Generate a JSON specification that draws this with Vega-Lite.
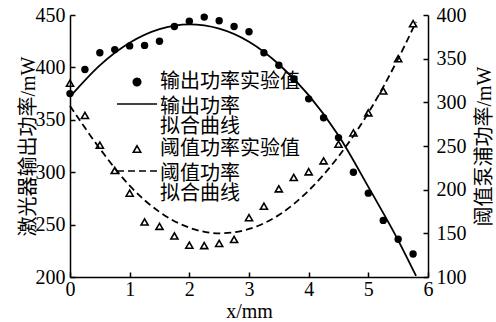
{
  "$schema": "https://vega.github.io/schema/vega-lite/v6.json",
  "width": 358,
  "height": 262,
  "autosize": {"type": "none"},
  "padding": {"left": 70, "top": 15, "right": 68, "bottom": 45},
  "background": "white",
  "config": {
    "view": {"stroke": null},
    "axis": {
      "labelFont": "Liberation Serif",
      "labelFontSize": 20,
      "labelColor": "black",
      "labelOverlap": false,
      "domainColor": "black",
      "domainWidth": 1.5,
      "tickColor": "black",
      "tickWidth": 1.5,
      "tickSize": -5,
      "grid": false,
      "titleFont": "Liberation Serif, Noto Sans CJK SC",
      "titleFontSize": 20,
      "titleFontWeight": "normal",
      "titleColor": "black"
    },
    "legend": {
      "orient": "none",
      "legendX": 57,
      "legendY": 57,
      "padding": 0,
      "symbolSize": 55,
      "symbolStrokeColor": "black",
      "symbolStrokeWidth": 1.6,
      "labelFont": "Noto Sans CJK SC",
      "labelFontSize": 20,
      "labelColor": "black",
      "labelOffset": 13,
      "labelLimit": 400,
      "rowPadding": 2
    }
  },
  "datasets": {
    "out_pts": [
      {"x": 0, "y": 375, "series": "输出功率实验值"},
      {"x": 0.25, "y": 398, "series": "输出功率实验值"},
      {"x": 0.5, "y": 414, "series": "输出功率实验值"},
      {"x": 0.75, "y": 417, "series": "输出功率实验值"},
      {"x": 1, "y": 420.5, "series": "输出功率实验值"},
      {"x": 1.25, "y": 421, "series": "输出功率实验值"},
      {"x": 1.5, "y": 425, "series": "输出功率实验值"},
      {"x": 1.75, "y": 439, "series": "输出功率实验值"},
      {"x": 2, "y": 444, "series": "输出功率实验值"},
      {"x": 2.25, "y": 448, "series": "输出功率实验值"},
      {"x": 2.5, "y": 444.5, "series": "输出功率实验值"},
      {"x": 2.75, "y": 439, "series": "输出功率实验值"},
      {"x": 3, "y": 434, "series": "输出功率实验值"},
      {"x": 3.25, "y": 414, "series": "输出功率实验值"},
      {"x": 3.5, "y": 402, "series": "输出功率实验值"},
      {"x": 3.75, "y": 389, "series": "输出功率实验值"},
      {"x": 4, "y": 370, "series": "输出功率实验值"},
      {"x": 4.25, "y": 352, "series": "输出功率实验值"},
      {"x": 4.5, "y": 333, "series": "输出功率实验值"},
      {"x": 4.75, "y": 300, "series": "输出功率实验值"},
      {"x": 5, "y": 280, "series": "输出功率实验值"},
      {"x": 5.25, "y": 254, "series": "输出功率实验值"},
      {"x": 5.5, "y": 236, "series": "输出功率实验值"},
      {"x": 5.75, "y": 222, "series": "输出功率实验值"}
    ],
    "out_fit": [
      {"x": 0, "y": 372},
      {"x": 0.5, "y": 402},
      {"x": 1, "y": 423.5},
      {"x": 1.5, "y": 436.5},
      {"x": 2, "y": 441},
      {"x": 2.5, "y": 437},
      {"x": 3, "y": 424.5},
      {"x": 3.5, "y": 403},
      {"x": 4, "y": 373.5},
      {"x": 4.5, "y": 335},
      {"x": 5, "y": 286},
      {"x": 5.5, "y": 235},
      {"x": 5.8, "y": 201}
    ],
    "thr_pts": [
      {"x": 0, "y": 322, "series": "阈值功率实验值"},
      {"x": 0.25, "y": 285, "series": "阈值功率实验值"},
      {"x": 0.5, "y": 251, "series": "阈值功率实验值"},
      {"x": 0.75, "y": 222, "series": "阈值功率实验值"},
      {"x": 1, "y": 196, "series": "阈值功率实验值"},
      {"x": 1.25, "y": 163, "series": "阈值功率实验值"},
      {"x": 1.5, "y": 158, "series": "阈值功率实验值"},
      {"x": 1.75, "y": 147, "series": "阈值功率实验值"},
      {"x": 2, "y": 136.5, "series": "阈值功率实验值"},
      {"x": 2.25, "y": 136, "series": "阈值功率实验值"},
      {"x": 2.5, "y": 138.5, "series": "阈值功率实验值"},
      {"x": 2.75, "y": 143, "series": "阈值功率实验值"},
      {"x": 3, "y": 168, "series": "阈值功率实验值"},
      {"x": 3.25, "y": 181, "series": "阈值功率实验值"},
      {"x": 3.5, "y": 201, "series": "阈值功率实验值"},
      {"x": 3.75, "y": 214, "series": "阈值功率实验值"},
      {"x": 4, "y": 220.5, "series": "阈值功率实验值"},
      {"x": 4.25, "y": 233, "series": "阈值功率实验值"},
      {"x": 4.5, "y": 252, "series": "阈值功率实验值"},
      {"x": 4.75, "y": 265, "series": "阈值功率实验值"},
      {"x": 5, "y": 288, "series": "阈值功率实验值"},
      {"x": 5.25, "y": 313, "series": "阈值功率实验值"},
      {"x": 5.5, "y": 350, "series": "阈值功率实验值"},
      {"x": 5.75, "y": 390, "series": "阈值功率实验值"}
    ],
    "thr_fit": [
      {"x": 0, "y": 296},
      {"x": 0.5, "y": 247},
      {"x": 1, "y": 204.5},
      {"x": 1.5, "y": 174.5},
      {"x": 2, "y": 156.5},
      {"x": 2.5, "y": 150},
      {"x": 3, "y": 155},
      {"x": 3.5, "y": 171},
      {"x": 4, "y": 199},
      {"x": 4.5, "y": 238},
      {"x": 5, "y": 288},
      {"x": 5.5, "y": 350},
      {"x": 5.8, "y": 392}
    ]
  },
  "encoding": {
    "x": {
      "field": "x",
      "type": "quantitative",
      "scale": {"domain": [0, 6], "nice": false, "zero": false},
      "axis": {"title": "x/mm", "values": [0, 1, 2, 3, 4, 5, 6], "labelFlush": false, "labelPadding": 7, "titlePadding": 2}
    }
  },
  "layer": [
    {
      "encoding": {
        "y": {
          "field": "y",
          "type": "quantitative",
          "scale": {"domain": [200, 450], "nice": false, "zero": false},
          "axis": {"orient": "left", "title": "激光器输出功率/mW", "values": [200, 250, 300, 350, 400, 450], "labelPadding": 10, "titleAngle": 270, "titleBaseline": "bottom", "titleX": -32}
        }
      },
      "layer": [
        {
          "data": {"name": "out_pts"},
          "mark": {"type": "point", "filled": true, "size": 55, "color": "black", "opacity": 1},
          "encoding": {
            "shape": {
              "field": "series",
              "type": "nominal",
              "scale": {
                "domain": ["输出功率实验值", "输出功率拟合曲线", "阈值功率实验值", "阈值功率拟合曲线"],
                "range": ["circle", "M-5.4,0H5.4", "triangle-up", "M-5.4,0H5.4"]
              },
              "legend": {
                "title": null,
                "labelExpr": "length(datum.label) > 7 ? [substring(datum.label, 0, 4), substring(datum.label, 4)] : datum.label",
                "encoding": {
                  "symbols": {
                    "fill": {"value": {"expr": "datum.value == '输出功率实验值' ? 'black' : 'transparent'"}},
                    "stroke": {"value": "black"},
                    "strokeWidth": {"value": 1.6},
                    "strokeDash": {"value": {"expr": "datum.value == '阈值功率拟合曲线' ? [7, 4] : [1, 0]"}},
                    "opacity": {"value": 1}
                  },
                  "labels": {
                    "dy": {"value": {"expr": "length(datum.value) > 7 ? 3 : 0"}},
                    "lineHeight": {"value": 20}
                  }
                }
              }
            }
          }
        },
        {
          "data": {"name": "out_fit"},
          "mark": {"type": "line", "color": "black", "strokeWidth": 1.8, "interpolate": "monotone"}
        }
      ]
    },
    {
      "encoding": {
        "y": {
          "field": "y",
          "type": "quantitative",
          "scale": {"domain": [100, 400], "nice": false, "zero": false},
          "axis": {"orient": "right", "title": "阈值泵浦功率/mW", "titleAngle": 270, "titleBaseline": "top", "values": [100, 150, 200, 250, 300, 350, 400], "labelPadding": 13, "titlePadding": 8}
        }
      },
      "layer": [
        {
          "data": {"name": "thr_pts"},
          "mark": {"type": "point", "filled": false, "size": 50, "color": "black", "strokeWidth": 1.6, "opacity": 1},
          "encoding": {
            "shape": {
              "field": "series",
              "type": "nominal",
              "scale": {
                "domain": ["输出功率实验值", "输出功率拟合曲线", "阈值功率实验值", "阈值功率拟合曲线"],
                "range": ["circle", "M-5.4,0H5.4", "triangle-up", "M-5.4,0H5.4"]
              },
              "legend": {
                "title": null,
                "labelExpr": "length(datum.label) > 7 ? [substring(datum.label, 0, 4), substring(datum.label, 4)] : datum.label",
                "encoding": {
                  "symbols": {
                    "fill": {"value": {"expr": "datum.value == '输出功率实验值' ? 'black' : 'transparent'"}},
                    "stroke": {"value": "black"},
                    "strokeWidth": {"value": 1.6},
                    "strokeDash": {"value": {"expr": "datum.value == '阈值功率拟合曲线' ? [7, 4] : [1, 0]"}},
                    "opacity": {"value": 1}
                  },
                  "labels": {
                    "dy": {"value": {"expr": "length(datum.value) > 7 ? 3 : 0"}},
                    "lineHeight": {"value": 20}
                  }
                }
              }
            }
          }
        },
        {
          "data": {"name": "thr_fit"},
          "mark": {"type": "line", "color": "black", "strokeWidth": 1.8, "strokeDash": [7, 4], "interpolate": "monotone"}
        }
      ]
    }
  ],
  "resolve": {"scale": {"y": "independent"}}
}
